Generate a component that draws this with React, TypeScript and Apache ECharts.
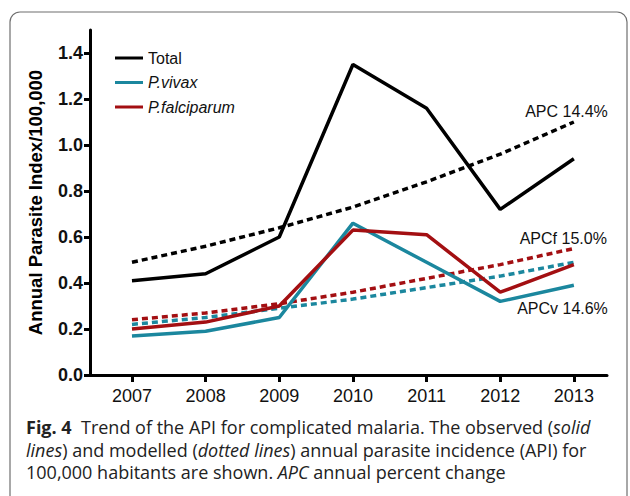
import React, { useEffect, useRef } from "react";
import * as echarts from "echarts";

const years = [2007, 2008, 2009, 2010, 2011, 2012, 2013];
const totalObserved = [0.41, 0.44, 0.6, 1.35, 1.16, 0.72, 0.94];
const vivaxObserved = [0.17, 0.19, 0.25, 0.66, 0.49, 0.32, 0.39];
const falciparumObserved = [0.2, 0.23, 0.3, 0.63, 0.61, 0.36, 0.48];
const totalModel = [0.49, 0.56, 0.64, 0.73, 0.84, 0.96, 1.1];
const vivaxModel = [0.22, 0.25, 0.29, 0.33, 0.38, 0.43, 0.49];
const falciparumModel = [0.24, 0.27, 0.31, 0.36, 0.42, 0.48, 0.55];
const yTicks = [0, 0.2, 0.4, 0.6, 0.8, 1.0, 1.2, 1.4];
const apcLabels = { total: "APC 14.4%", falciparum: "APCf 15.0%", vivax: "APCv 14.6%" };

const BLACK = "#000000";
const TEAL = "#1b879e";
const RED = "#a30f12";
const AXIS_FONT = "'Liberation Sans', Arial, Helvetica, sans-serif";
const CAPTION_FONT = "'Open Sans', 'Noto Sans', sans-serif";

const pairs = (vals: number[]) => years.map((y, i) => [y, vals[i]]);

export default function App() {
  const ref = useRef<HTMLDivElement>(null);
  useEffect(() => {
    document.body.style.margin = "0";
    const chart = echarts.init(ref.current!, null, { renderer: "svg" });
    const solid = (name: string, data: number[], color: string) => ({
      name,
      type: "line",
      data: pairs(data),
      symbol: "none",
      color,
      lineStyle: { color, width: 3.5, type: "solid" },
      z: 3,
    });
    const dashed = (name: string, data: number[], color: string, label: string, offset: number[]) => ({
      name,
      type: "line",
      data: pairs(data),
      symbol: "none",
      color,
      lineStyle: { color, width: 3.5, type: [6, 4] },
      z: 2,
      endLabel: {
        show: true,
        formatter: label,
        distance: 0,
        align: "right",
        verticalAlign: "middle",
        offset,
        color: "#111",
        fontFamily: AXIS_FONT,
        fontSize: 16,
      },
    });
    const option: any = {
      animation: false,
      backgroundColor: "#ffffff",
      grid: { left: 90, right: 23, top: 30, bottom: 121, containLabel: false },
      legend: {
        data: ["Total", "P.vivax", "P.falciparum"],
        orient: "vertical",
        left: 110,
        top: 45,
        itemWidth: 28,
        itemHeight: 3,
        itemGap: 8.5,
        icon: "rect",
        textStyle: {
          fontFamily: AXIS_FONT,
          fontSize: 16,
          lineHeight: 14,
          color: "#111",
          rich: {
            i: { fontFamily: AXIS_FONT, fontSize: 16, lineHeight: 14, fontStyle: "italic", color: "#111" },
          },
        },
        formatter: (n: string) => (n === "Total" ? n : `{i|${n}}`),
      },
      xAxis: {
        type: "value",
        min: 2006.43,
        max: 2013.45,
        splitLine: { show: false },
        axisLine: { lineStyle: { color: "#000", width: 3 } },
        axisTick: { show: true, length: 7, lineStyle: { color: "#000", width: 3 }, customValues: years },
        axisLabel: {
          customValues: years,
          formatter: (v: number) => String(v),
          fontFamily: AXIS_FONT,
          fontSize: 18,
          color: "#111",
          margin: 12,
        },
      },
      yAxis: {
        type: "value",
        min: 0,
        max: 1.5,
        name: "Annual Parasite Index/100,000",
        nameLocation: "middle",
        nameGap: 45,
        nameRotate: 90,
        nameTextStyle: { fontFamily: AXIS_FONT, fontSize: 18.5, fontWeight: "bold", color: "#000" },
        splitLine: { show: false },
        axisLine: { show: true, lineStyle: { color: "#000", width: 3 } },
        axisTick: { show: true, length: 6, lineStyle: { color: "#000", width: 3 }, customValues: yTicks },
        axisLabel: {
          customValues: yTicks,
          formatter: (v: number) => v.toFixed(1),
          fontFamily: AXIS_FONT,
          fontSize: 18,
          fontWeight: "bold",
          color: "#111",
          margin: 7,
        },
      },
      series: [
        solid("Total", totalObserved, BLACK),
        solid("P.vivax", vivaxObserved, TEAL),
        solid("P.falciparum", falciparumObserved, RED),
        dashed("Total model", totalModel, BLACK, apcLabels.total, [34, -11]),
        dashed("P.vivax model", vivaxModel, TEAL, apcLabels.vivax, [34, 46]),
        dashed("P.falciparum model", falciparumModel, RED, apcLabels.falciparum, [33, -10]),
      ],
      graphic: [
        {
          type: "rect",
          shape: { x: 10, y: 12, width: 617, height: 500, r: 10 },
          style: { fill: "none", stroke: "#6f6f6f", lineWidth: 1.2 },
          silent: true,
        },
        {
          type: "text",
          left: 26,
          top: 418,
          style: {
            text: "{b|Fig. 4}  Trend of the API for complicated malaria. The observed ({i|solid}",
            fontFamily: CAPTION_FONT,
            fontSize: 18,
            fill: "#222",
            rich: {
              b: { fontFamily: CAPTION_FONT, fontSize: 18, fontWeight: "bold", fill: "#222" },
              i: { fontFamily: CAPTION_FONT, fontSize: 18, fontStyle: "italic", fill: "#222" },
            },
          },
        },
        {
          type: "text",
          left: 26,
          top: 441,
          style: {
            text: "{i|lines}) and modelled ({i|dotted lines}) annual parasite incidence (API) for",
            fontFamily: CAPTION_FONT,
            fontSize: 18,
            fill: "#222",
            rich: {
              i: { fontFamily: CAPTION_FONT, fontSize: 18, fontStyle: "italic", fill: "#222" },
            },
          },
        },
        {
          type: "text",
          left: 26,
          top: 463,
          style: {
            text: "100,000 habitants are shown. {i|APC} annual percent change",
            fontFamily: CAPTION_FONT,
            fontSize: 18,
            fill: "#222",
            rich: {
              i: { fontFamily: CAPTION_FONT, fontSize: 18, fontStyle: "italic", fill: "#222" },
            },
          },
        },
      ],
    };
    chart.setOption(option);
    return () => chart.dispose();
  }, []);
  return <div ref={ref} style={{ width: 630, height: 496 }} />;
}
